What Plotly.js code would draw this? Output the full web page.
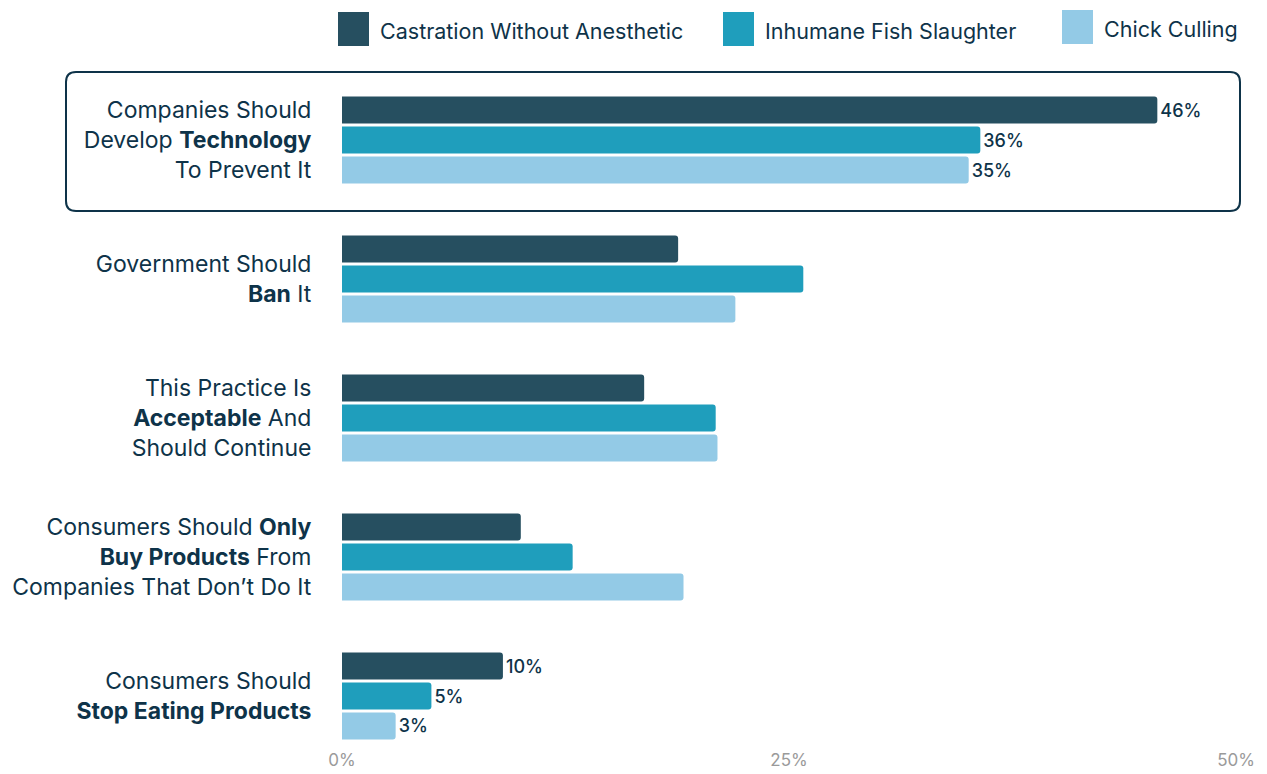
<!DOCTYPE html>
<html>
<head>
<meta charset="utf-8">
<script src="https://cdn.plot.ly/plotly-3.0.1.min.js"></script>
<style>html,body{margin:0;padding:0;background:#fff;}#chart{width:1267px;height:774px;}</style>
</head>
<body>
<div id="chart"></div>
<script>
const categories = [
  "Companies Should<br>Develop <b>Technology</b><br>To Prevent It",
  "Government Should<br><b>Ban</b> It",
  "This Practice Is<br><b>Acceptable</b> And<br>Should Continue",
  "Consumers Should <b>Only</b><br><b>Buy Products</b> From<br>Companies That Don\u2019t Do It",
  "Consumers Should<br><b>Stop Eating Products</b>"
];
const seriesNames = ["Castration Without Anesthetic", "Inhumane Fish Slaughter", "Chick Culling"];
const castration = [45.6, 18.8, 16.9, 10.0, 9.0];
const fishSlaughter = [35.7, 25.8, 20.9, 12.9, 5.0];
const chickCulling = [35.05, 22.0, 21.0, 19.1, 3.0];
const castrationLabels = ["46%", "", "", "", "10%"];
const fishLabels = ["36%", "", "", "", "5%"];
const chickLabels = ["35%", "", "", "", "3%"];
const xTickVals = [0, 25, 50];
const xTickText = ["0%", "25%", "50%"];

const colors = ["#264f60", "#1f9ebc", "#93cae6"];
const textColor = "#0e3349";
const FONT = "Inter, 'Open Sans', sans-serif";

const W = 1267, H = 774;
const M = {l: 342, r: 31, t: 70, b: 26};
const pw = W - M.l - M.r, ph = H - M.t - M.b;
const px = x => (x - M.l) / pw;
const py = y => (H - M.b - y) / ph;

const values = [castration, fishSlaughter, chickCulling];
const labels = [castrationLabels, fishLabels, chickLabels];

const traces = values.map((v, i) => ({
  type: "bar",
  orientation: "h",
  name: seriesNames[i],
  y: categories,
  x: v,
  text: labels[i],
  textposition: "outside",
  cliponaxis: false,
  textfont: {family: FONT, size: 18, color: textColor, weight: 500},
  marker: {color: colors[i], cornerradius: 3, line: {width: 0}},
  hoverinfo: "x+name",
  showlegend: false
}));

function roundRect(x0, y0, x1, y1, r) {
  const rx = r / pw, ry = r / ph;
  const X0 = px(x0), X1 = px(x1), Y0 = py(y0), Y1 = py(y1);
  return `M ${X0 + rx} ${Y0} L ${X1 - rx} ${Y0} Q ${X1} ${Y0} ${X1} ${Y0 - ry} ` +
         `L ${X1} ${Y1 + ry} Q ${X1} ${Y1} ${X1 - rx} ${Y1} ` +
         `L ${X0 + rx} ${Y1} Q ${X0} ${Y1} ${X0} ${Y1 + ry} ` +
         `L ${X0} ${Y0 - ry} Q ${X0} ${Y0} ${X0 + rx} ${Y0} Z`;
}

const shapes = [{
  type: "path", xref: "paper", yref: "paper",
  path: roundRect(66, 72, 1240, 211, 10),
  line: {color: "#0e3349", width: 2}, fillcolor: "rgba(0,0,0,0)", layer: "below"
}];

const legendPos = [
  {x0: 338, y0: 12, x1: 369, y1: 46, tx: 378, ty: 31},
  {x0: 723, y0: 12, x1: 754, y1: 46, tx: 763, ty: 31},
  {x0: 1062, y0: 10, x1: 1093, y1: 44, tx: 1102, ty: 29}
];
const annotations = [];
legendPos.forEach((p, i) => {
  shapes.push({type: "rect", xref: "paper", yref: "paper",
    x0: px(p.x0), x1: px(p.x1), y0: py(p.y1), y1: py(p.y0),
    fillcolor: colors[i], line: {width: 0}});
  annotations.push({xref: "paper", yref: "paper", x: px(p.tx), y: py(p.ty),
    xanchor: "left", yanchor: "middle", showarrow: false, text: seriesNames[i],
    font: {family: FONT, size: 21.5, color: textColor}});
});

const layout = {
  width: W, height: H,
  margin: M,
  paper_bgcolor: "#fff", plot_bgcolor: "#fff",
  barmode: "group", bargap: 0.353, bargroupgap: 0.1,
  showlegend: false,
  font: {family: FONT, color: textColor},
  xaxis: {
    range: [0, 50], tickvals: xTickVals, ticktext: xTickText,
    showgrid: false, zeroline: false, showline: false,
    tickfont: {family: FONT, size: 17, color: "#9a9a9a"},
    ticks: "", ticklen: 0
  },
  yaxis: {
    type: "category", categoryorder: "array", categoryarray: categories,
    range: [4.374, -0.504],
    showgrid: false, zeroline: false, showline: false,
    ticks: "outside", ticklen: 25, tickcolor: "rgba(0,0,0,0)",
    tickfont: {family: FONT, size: 23, color: textColor}
  },
  shapes: shapes,
  annotations: annotations
};

Plotly.newPlot("chart", traces, layout, {displayModeBar: false, staticPlot: true});
</script>
</body>
</html>
